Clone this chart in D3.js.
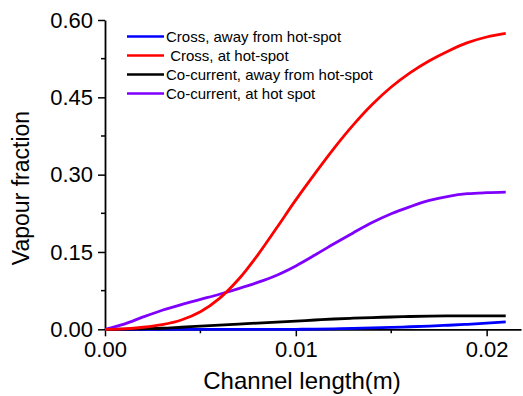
<!DOCTYPE html>
<html>
<head>
<meta charset="utf-8">
<script src="https://cdn.jsdelivr.net/npm/d3@7"></script>
<style>
  body { margin: 0; background: #fff; }
  text { font-family: Arial, "Liberation Sans", sans-serif; }
</style>
</head>
<body>
<div id="chart"></div>
<script>
// channel length (m)
const lengths = [0, 0.001, 0.002, 0.003, 0.004, 0.005, 0.006, 0.007, 0.008, 0.009, 0.010,
  0.011, 0.012, 0.013, 0.014, 0.015, 0.016, 0.017, 0.018, 0.019, 0.020, 0.021];

const crossAway = [0, 0, 0, 0, 0, 0, 0, 0, 0, 0, 0,
  0.0004, 0.001, 0.0018, 0.0027, 0.0037, 0.0049, 0.0063, 0.0079, 0.0097, 0.0118, 0.0145];
const crossHot = [0, 0.001, 0.004, 0.009, 0.018, 0.034, 0.060, 0.097, 0.144, 0.197, 0.251,
  0.302, 0.351, 0.396, 0.436, 0.470, 0.498, 0.521, 0.540, 0.556, 0.567, 0.574];
const coAway = [0, 0.0003, 0.001, 0.002, 0.004, 0.006, 0.008, 0.010, 0.012, 0.014, 0.016,
  0.018, 0.020, 0.0215, 0.0228, 0.0239, 0.0248, 0.0255, 0.0259, 0.0261, 0.0262, 0.0262];
const coHot = [0, 0.010, 0.024, 0.037, 0.048, 0.058, 0.068, 0.079, 0.091, 0.105, 0.123,
  0.144, 0.166, 0.187, 0.207, 0.224, 0.238, 0.250, 0.258, 0.263, 0.265, 0.266];

const seriesNames = ["Cross, away from hot-spot", " Cross, at hot-spot",
  "Co-current, away from hot-spot", "Co-current, at hot spot"];
const seriesColors = ["#0000ff", "#ff0000", "#000000", "#7f00ff"];
const seriesValues = [crossAway, crossHot, coAway, coHot];

const xTicks = [0, 0.01, 0.02];
const xMinor = [0.005, 0.015];
const yTicks = [0, 0.15, 0.30, 0.45, 0.60];
const yMinor = [0.075, 0.225, 0.375, 0.525];

const width = 523, height = 396;
const x = d3.scaleLinear().domain([0, 0.0218]).range([105, 521]);
const y = d3.scaleLinear().domain([0, 0.60]).range([329.3, 20]);

const svg = d3.select("#chart").append("svg")
  .attr("width", width)
  .attr("height", height);

// axes
const xAxis = svg.append("g")
  .attr("transform", `translate(0,${y(0)})`)
  .call(d3.axisBottom(x).tickValues(xTicks).tickFormat(d3.format(".2f"))
    .tickSize(7).tickPadding(5).tickSizeOuter(0));
xAxis.append("g").selectAll("line")
  .data(xMinor).enter().append("line")
  .attr("x1", d => x(d)).attr("x2", d => x(d))
  .attr("y1", 0).attr("y2", 4)
  .attr("stroke", "#000").attr("stroke-width", 1.5);

const yAxis = svg.append("g")
  .attr("transform", `translate(${x(0)},0)`)
  .call(d3.axisLeft(y).tickValues(yTicks).tickFormat(d3.format(".2f"))
    .tickSize(7).tickPadding(5).tickSizeOuter(0));
yAxis.append("g").selectAll("line")
  .data(yMinor).enter().append("line")
  .attr("y1", d => y(d)).attr("y2", d => y(d))
  .attr("x1", 0).attr("x2", -4)
  .attr("stroke", "#000").attr("stroke-width", 1.5);

svg.selectAll(".domain").attr("stroke", "#000").attr("stroke-width", 1.8);
svg.selectAll(".tick line").attr("stroke", "#000").attr("stroke-width", 1.5);
svg.selectAll(".tick text")
  .attr("font-size", "22px")
  .attr("fill", "#000")
  .style("font-family", "Arial, 'Liberation Sans', sans-serif");

// axis titles
svg.append("text")
  .attr("x", 302).attr("y", 389)
  .attr("text-anchor", "middle")
  .attr("font-size", "24px")
  .text("Channel length(m)");

svg.append("text")
  .attr("transform", "translate(29,188) rotate(-90)")
  .attr("text-anchor", "middle")
  .attr("font-size", "23px")
  .text("Vapour fraction");

// lines
const line = d3.line()
  .x(d => x(d[0]))
  .y(d => y(d[1]))
  .curve(d3.curveCatmullRom.alpha(0.5));

const drawOrder = [0, 2, 3, 1];
drawOrder.forEach(i => {
  svg.append("path")
    .datum(lengths.map((l, j) => [l, seriesValues[i][j]]))
    .attr("fill", "none")
    .attr("stroke", seriesColors[i])
    .attr("stroke-width", 2.8)
    .attr("stroke-linejoin", "round")
    .attr("d", line);
});

// legend
const legend = svg.append("g").attr("class", "legend");
seriesNames.forEach((name, i) => {
  const ly = 36.5 + i * 19;
  legend.append("line")
    .attr("x1", 127).attr("x2", 164)
    .attr("y1", ly).attr("y2", ly)
    .attr("stroke", seriesColors[i])
    .attr("stroke-width", 2.5);
  legend.append("text")
    .attr("x", 166).attr("y", ly)
    .attr("dy", "0.35em")
    .attr("font-size", "15px")
    .style("white-space", "pre")
    .text(name);
});
</script>
</body>
</html>
